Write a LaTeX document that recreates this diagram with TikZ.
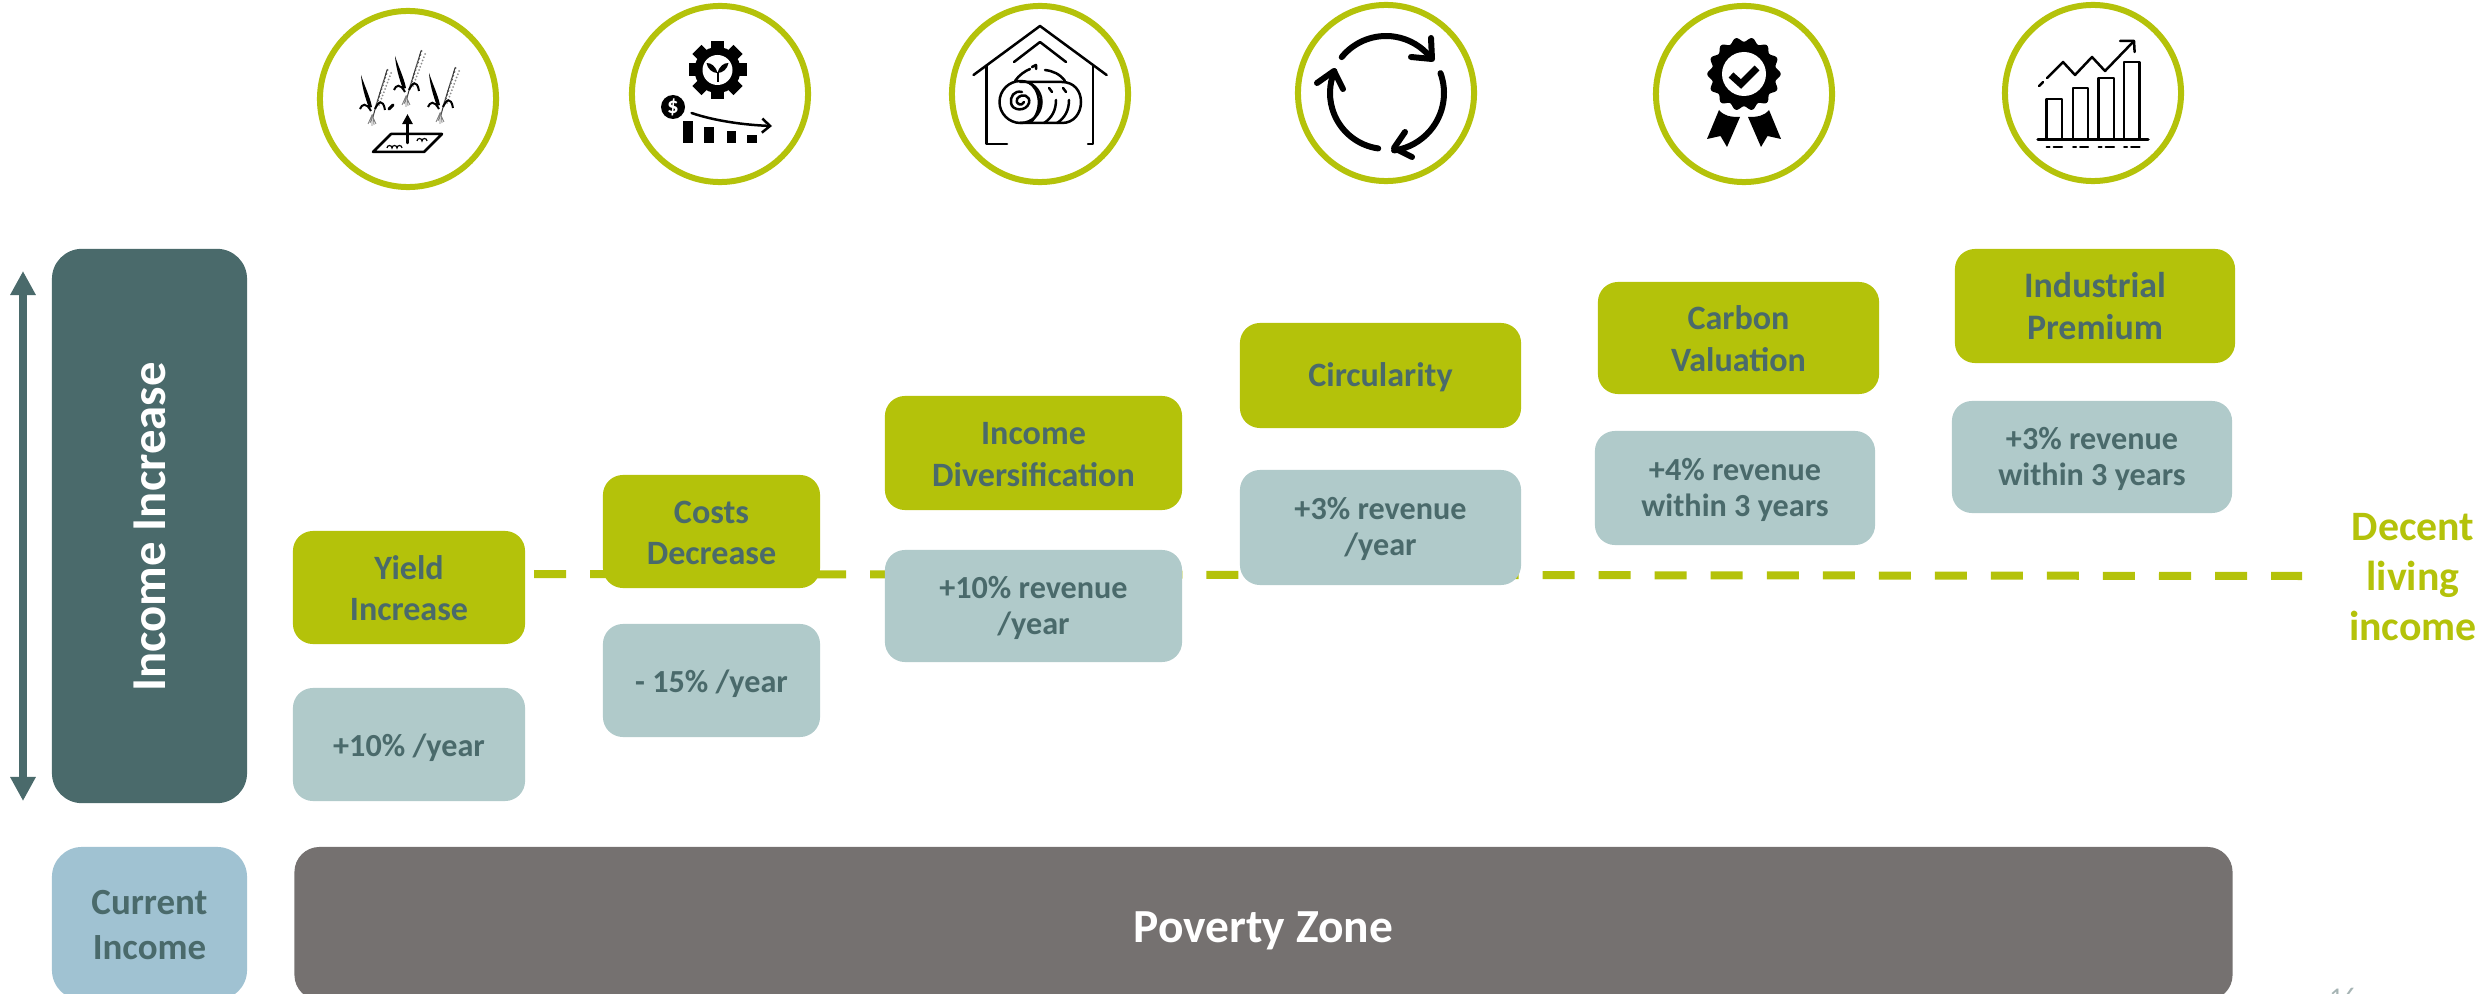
\documentclass[tikz,border=0pt]{standalone}
\usepackage{fontspec}
\setmainfont{Carlito}
\usetikzlibrary{arrows.meta}
\definecolor{olivegreen}{HTML}{B4C20A}
\definecolor{darkteal}{HTML}{4A6A6B}
\definecolor{paleteal}{HTML}{B0CACA}
\definecolor{paleblue}{HTML}{A0C2D2}
\definecolor{warmgrey}{HTML}{757170}
\definecolor{pagegrey}{HTML}{A6B4B4}
\begin{document}
\begin{tikzpicture}[
x=0.01cm, y=-0.01cm,
stepnode/.style={fill=olivegreen, text=darkteal, rounded corners=.2cm, inner sep=0pt, align=center, text depth=0pt, text height=19pt, font=\bfseries\fontsize{9.7}{11.8}\selectfont},
valuenode/.style={fill=paleteal, text=darkteal, rounded corners=.2cm, inner sep=0pt, align=center, text depth=0pt, text height=16.2pt, font=\bfseries\fontsize{9.15}{10.3}\selectfont},
bandnode/.style={rounded corners=.3cm, inner sep=0pt, align=center, text depth=0pt},
ringnode/.style={circle, draw=olivegreen, line width=.06cm, minimum size=1.76cm},
iconline/.style={draw=black, line width=.025cm, line cap=round, line join=round},
plantpic/.pic={
  \fill[black] (-3,-9) .. controls (-7,-20) and (-10,-30) .. (-11,-42) .. controls (-7,-30) and (-2,-20) .. (0,-10) -- cycle;
  \draw[black!80, line width=.01cm] (1,0) .. controls (5,-16) and (10,-30) .. (15,-47);
  \foreach \t in {0,...,10} {
    \fill[black!65] (3.5+\t*1.2,-9-\t*3.8) circle (1.2);
    \fill[black!45] (7+\t*1.2,-12-\t*3.2) circle (1);
  }
  \draw[black, line width=.02cm] (-12,-8) .. controls (-10,-13) and (-6,-15) .. (-1,-6);
  \draw[black, line width=.02cm] (3,-8) .. controls (6,-15) and (11,-19) .. (13,-7);
  \draw[black!50, line width=.008cm] (-4,7) -- (0,-2) -- (4,7) (0,-2) -- (0,9) (-2,6) -- (1,-2) -- (2,8);
},
]
\useasboundingbox (0,0) rectangle (2484,994);
%Dashed line
\coordinate (lineleft) at (534,574);
\coordinate (lineright) at (2302,576);
\draw[olivegreen, line width=.08cm, dash pattern=on .32cm off .24cm] (lineleft) -- (lineright);
%Left column
\node[bandnode, fill=darkteal, minimum width=1.95cm, minimum height=5.54cm] at (149.5,526) (increase) {};
\node[rotate=90, text=white, font=\bfseries\fontsize{13.85}{16}\selectfont] at (150,527) (increaselabel) {Income Increase};
\node[bandnode, fill=paleblue, text=darkteal, text height=20.4pt, minimum width=1.95cm, minimum height=1.53cm, font=\bfseries\fontsize{10.5}{12.8}\selectfont] at (149.5,923.5) (current) {Current\\Income};
\node[bandnode, fill=warmgrey, text=white, text height=10.6pt, rounded corners=.25cm, minimum width=19.37cm, minimum height=1.53cm, font=\bfseries\fontsize{13.5}{16}\selectfont] at (1263.5,923.5) (poverty) {Poverty Zone};
\coordinate (arrowtop) at (23,271);
\coordinate (arrowbottom) at (23,801);
\draw[darkteal, line width=.08cm, {Triangle[length=.24cm,width=.24cm]}-{Triangle[length=.24cm,width=.24cm]}] (arrowtop) -- (arrowbottom);
%Levers
\node[stepnode, minimum width=2.32cm, minimum height=1.13cm] at (409,587.5) (yield) {Yield\\Increase};
\node[valuenode, text height=6.8pt, minimum width=2.32cm, minimum height=1.13cm] at (409,744.5) (yieldvalue) {+10\% /year};
\node[stepnode, minimum width=2.17cm, minimum height=1.13cm] at (711.5,531.5) (costs) {Costs\\Decrease};
\node[valuenode, text height=6.8pt, minimum width=2.17cm, minimum height=1.13cm] at (711.5,680.5) (costsvalue) {- 15\% /year};
\node[stepnode, minimum width=2.97cm, minimum height=1.14cm] at (1033.5,453) (diversification) {Income\\Diversification};
\node[valuenode, minimum width=2.97cm, minimum height=1.12cm] at (1033.5,606) (diversificationvalue) {+10\% revenue\\/year};
\node[stepnode, text height=6.2pt, minimum width=2.81cm, minimum height=1.05cm] at (1380.5,375.5) (circularity) {Circularity};
\node[valuenode, minimum width=2.81cm, minimum height=1.15cm] at (1380.5,527.5) (circularityvalue) {+3\% revenue\\/year};
\node[stepnode, minimum width=2.81cm, minimum height=1.12cm] at (1738.5,338) (carbon) {Carbon\\Valuation};
\node[valuenode, minimum width=2.80cm, minimum height=1.14cm] at (1735,488) (carbonvalue) {+4\% revenue\\within 3 years};
\node[stepnode, minimum width=2.80cm, minimum height=1.14cm, font=\bfseries\fontsize{10.2}{11.8}\selectfont] at (2095,306) (industrial) {Industrial\\Premium};
\node[valuenode, minimum width=2.80cm, minimum height=1.12cm] at (2092,457) (industrialvalue) {+3\% revenue\\within 3 years};
\node[text=olivegreen, align=center, inner sep=0pt, font=\bfseries\fontsize{11.9}{14.3}\selectfont] at (2413,577) (decent) {Decent\\living\\income};
\node[text=pagegrey, inner sep=0pt, font=\fontsize{7.7}{9}\selectfont] at (2343,997) (pagenumber) {16};
%Rings
\node[ringnode] at (408,99) (ringyield) {};
\node[ringnode] at (720,94) (ringcosts) {};
\node[ringnode] at (1040,94) (ringbarn) {};
\node[ringnode] at (1386,93) (ringcycle) {};
\node[ringnode] at (1744,94) (ringaward) {};
\node[ringnode] at (2093,93) (ringchart) {};
%Icon: plants over a field
\pic at (372,117) {plantpic};
\pic at (406,98) {plantpic};
\pic at (440,115) {plantpic};
\draw[iconline] (373,152) -- (391,134) -- (442,134) -- (424,152) -- cycle;
\draw[iconline, -{Triangle[length=.1cm,width=.1cm]}] (407.5,143) -- (407.5,114);
\draw[black, line width=.012cm] (387,148) arc[start angle=180,end angle=360,radius=2.5] arc[start angle=180,end angle=360,radius=2.5] arc[start angle=180,end angle=360,radius=2.5];
\draw[black, line width=.012cm] (417,141) arc[start angle=180,end angle=360,radius=2.5] arc[start angle=180,end angle=360,radius=2.5];
\draw[black, line width=.03cm, line cap=round] (389,109) -- (393,105);
%Icon: gear and falling costs
\begin{scope}[shift={(717.5,70)}]
\foreach \a in {0,45,...,315} {\fill[black, rotate=\a] (-6.5,-29) rectangle (6.5,-18);}
\fill[black] (0,0) circle (23);
\fill[white] (0,0) circle (15);
\fill[black] (-1,12) rectangle (1,2);
\fill[black] (0,3) .. controls (-2,-4) and (-6,-7) .. (-11,-7) .. controls (-10,-1) and (-5,3) .. (0,3);
\fill[black] (0,3) .. controls (2,-4) and (6,-7) .. (11,-7) .. controls (10,-1) and (5,3) .. (0,3);
\end{scope}
\fill[black] (673,107) circle (12);
\node[text=white, inner sep=0pt, font=\bfseries\fontsize{6.5}{7}\selectfont] at (673,107) (dollar) {\$};
\fill[black] (682.5,121) rectangle (692.5,143);
\fill[black] (704,127) rectangle (714,143);
\fill[black] (726.5,131) rectangle (736,143);
\fill[black] (747,135) rectangle (757,143);
\draw[iconline, -{Straight Barb[length=.08cm,width=.14cm]}] (691.5,113) .. controls (715,121) and (745,125) .. (772,126);
%Icon: bale in a barn
\draw[iconline] (973.5,75) -- (1040,26) -- (1106.6,75);
\draw[iconline] (1014,62) -- (1040,42) -- (1066,62);
\draw[iconline] (1007,144) -- (986.5,144) -- (986.5,66);
\draw[iconline] (1088,144) -- (1093,144) -- (1093,66);
\draw[iconline] (1020,123) -- (1062,123) .. controls (1074,123) and (1081,113) .. (1081,102) .. controls (1081,91) and (1074,82) .. (1062,82) -- (1020,82);
\draw[iconline] (1020.5,102) circle (21);
\draw[iconline] (1022,92) .. controls (1014,90) and (1010,97) .. (1011,103) .. controls (1012,111) and (1026,112) .. (1029,103) .. controls (1031,96) and (1022,92) .. (1017,99) .. controls (1015,104) and (1022,107) .. (1024,102);
\draw[iconline] (1028,82) .. controls (1040,88) and (1044,110) .. (1030,123);
\draw[iconline] (1056,100) .. controls (1056,110) and (1052,118) .. (1044,123);
\draw[iconline] (1069,100) .. controls (1069,110) and (1065,118) .. (1057,123);
\draw[iconline] (1049,88) -- (1052,92) (1063,88) -- (1066,92);
\draw[iconline] (1015,81) .. controls (1019,75) and (1025,71) .. (1030,69);
\draw[iconline] (1065,81) .. controls (1060,74) and (1053,71) .. (1045,70);
\draw[iconline] (1032,67) -- (1036,65) -- (1036,69);
%Icon: three arrows in a cycle
\begin{scope}[shift={(1386,93)}, line width=.06cm, line cap=round, line join=round]
\draw (219:57) arc[start angle=219,end angle=322,radius=57];
\draw (-20:58) arc[start angle=-20,end angle=82,radius=58];
\draw (98:56) arc[start angle=98,end angle=203,radius=56];
\end{scope}
\draw[line width=.06cm, line cap=round, line join=round] (1431,38) -- (1432,59) -- (1411,57);
\draw[line width=.06cm, line cap=round, line join=round] (1405,132) -- (1394,148) -- (1412,157);
\draw[line width=.06cm, line cap=round, line join=round] (1317,83) -- (1334,71) -- (1343,89);
%Icon: rosette with a check mark
\begin{scope}[shift={(1744,74)}]
\fill[black] plot[domain=0:360, samples=169, smooth] (\x:{34.5+2.2*cos(14*\x)}) -- cycle;
\fill[white] (0,0) circle (22);
\draw[black, line width=.07cm, line join=miter] (-13,1) -- (-3,10) -- (13,-6);
\end{scope}
\fill[black] (1719,110) .. controls (1724,116) and (1730,117) .. (1740,117) -- (1727,147) -- (1720.5,136) -- (1707,139) -- cycle;
\fill[black] (1769,110) .. controls (1764,116) and (1758,117) .. (1748,117) -- (1761,147) -- (1767.5,136) -- (1781,139) -- cycle;
%Icon: rising bars
\foreach \l/\r/\t in {2046.6/2062/99, 2073/2088/88, 2098.6/2114/78, 2124/2139.6/62} {
  \draw[iconline] (\l,138) -- (\l,\t) -- (\r,\t) -- (\r,138);
  \draw[iconline, line width=.02cm] (\l,147) -- (\l+3,147) (\l+7,147) -- (\r,147);
}
\draw[black, line width=.035cm, line cap=round] (2038,139.5) -- (2148,139.5);
\draw[iconline] (2039,86) -- (2043,82);
\draw[iconline] (2047,78) -- (2063,62) -- (2075,75) -- (2092,57) -- (2105,71) -- (2134,41);
\draw[iconline] (2120,41) -- (2134,41) -- (2134.6,52);
\end{tikzpicture}
\end{document}
